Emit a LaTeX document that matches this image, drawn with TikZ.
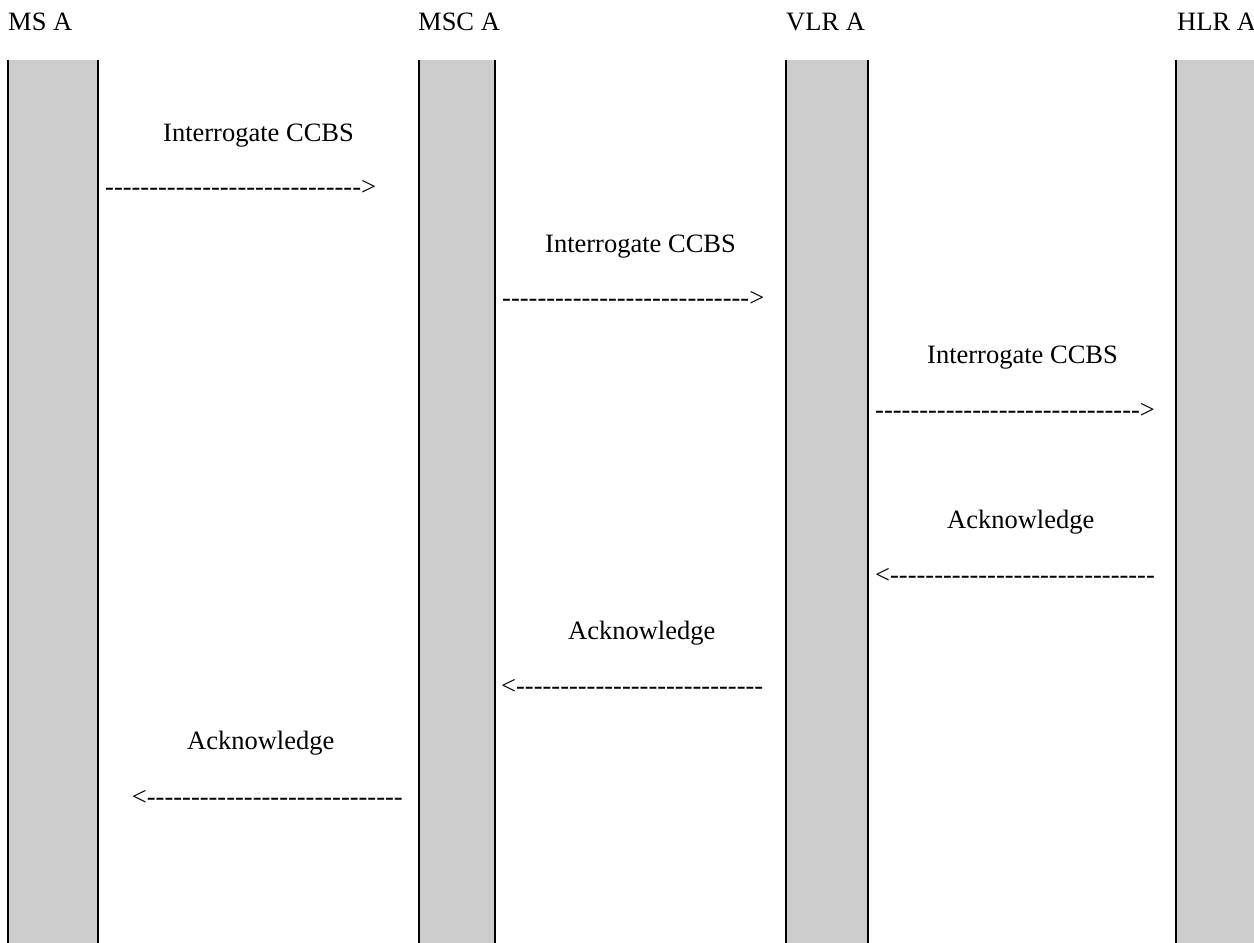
\documentclass[tikz,border=0pt]{standalone}
\usepackage{fontspec}
\setmainfont{Liberation Serif}
\definecolor{barfill}{HTML}{CCCCCC}
\newcommand\dashrun[1]{\foreach\i in {1,...,#1}{\mbox{-}}}
\begin{document}
\begin{tikzpicture}[x=1pt,y=-1pt,
  barnode/.style={fill=barfill,draw=none,inner sep=0,minimum height=885},
  edgeline/.style={line width=2.2pt,black},
  txt/.style={inner sep=0,font=\fontsize{26.5}{30}\selectfont},
  hdr/.style={txt,anchor=base west},
]
\useasboundingbox (0,0) rectangle (1254,943);
\fill[white] (0,0) rectangle (1254,943);
% lifelines
\node[barnode,minimum width=90] (b1) at (53,502.5) {};
\node[barnode,minimum width=76] (b2) at (457,502.5) {};
\node[barnode,minimum width=82] (b3) at (827,502.5) {};
\node[barnode,minimum width=84] (b4) at (1218,502.5) {};
\foreach \b in {b1,b2,b3}{
  \draw[edgeline] (\b.north west) -- (\b.south west);
  \draw[edgeline] (\b.north east) -- (\b.south east);
}
\draw[edgeline] (b4.north west) -- (b4.south west);
% headers
\node[hdr] (h1) at (8,30) {MS A};
\node[hdr] (h2) at (418,30) {MSC A};
\node[hdr] (h3) at (786,30) {VLR A};
\node[hdr] (h4) at (1177,30) {HLR A};
% messages
\node[hdr] (l1) at (163,141) {Interrogate CCBS};
\node[hdr] (a1) at (105,195) {\dashrun{29}>};
\node[hdr] (l2) at (545,252) {Interrogate CCBS};
\node[hdr] (a2) at (502,306.5) {\dashrun{28}>};
\node[hdr] (l3) at (927,363) {Interrogate CCBS};
\node[hdr] (a3) at (875,418) {\dashrun{30}>};
\node[hdr] (l4) at (947,528) {Acknowledge};
\node[hdr] (a4) at (875,583) {<\dashrun{30}};
\node[hdr] (l5) at (568,639) {Acknowledge};
\node[hdr] (a5) at (501,694) {<\dashrun{28}};
\node[hdr] (l6) at (187,749) {Acknowledge};
\node[txt,anchor=base east] (a6) at (403,805) {<\dashrun{29}};
\end{tikzpicture}
\end{document}
